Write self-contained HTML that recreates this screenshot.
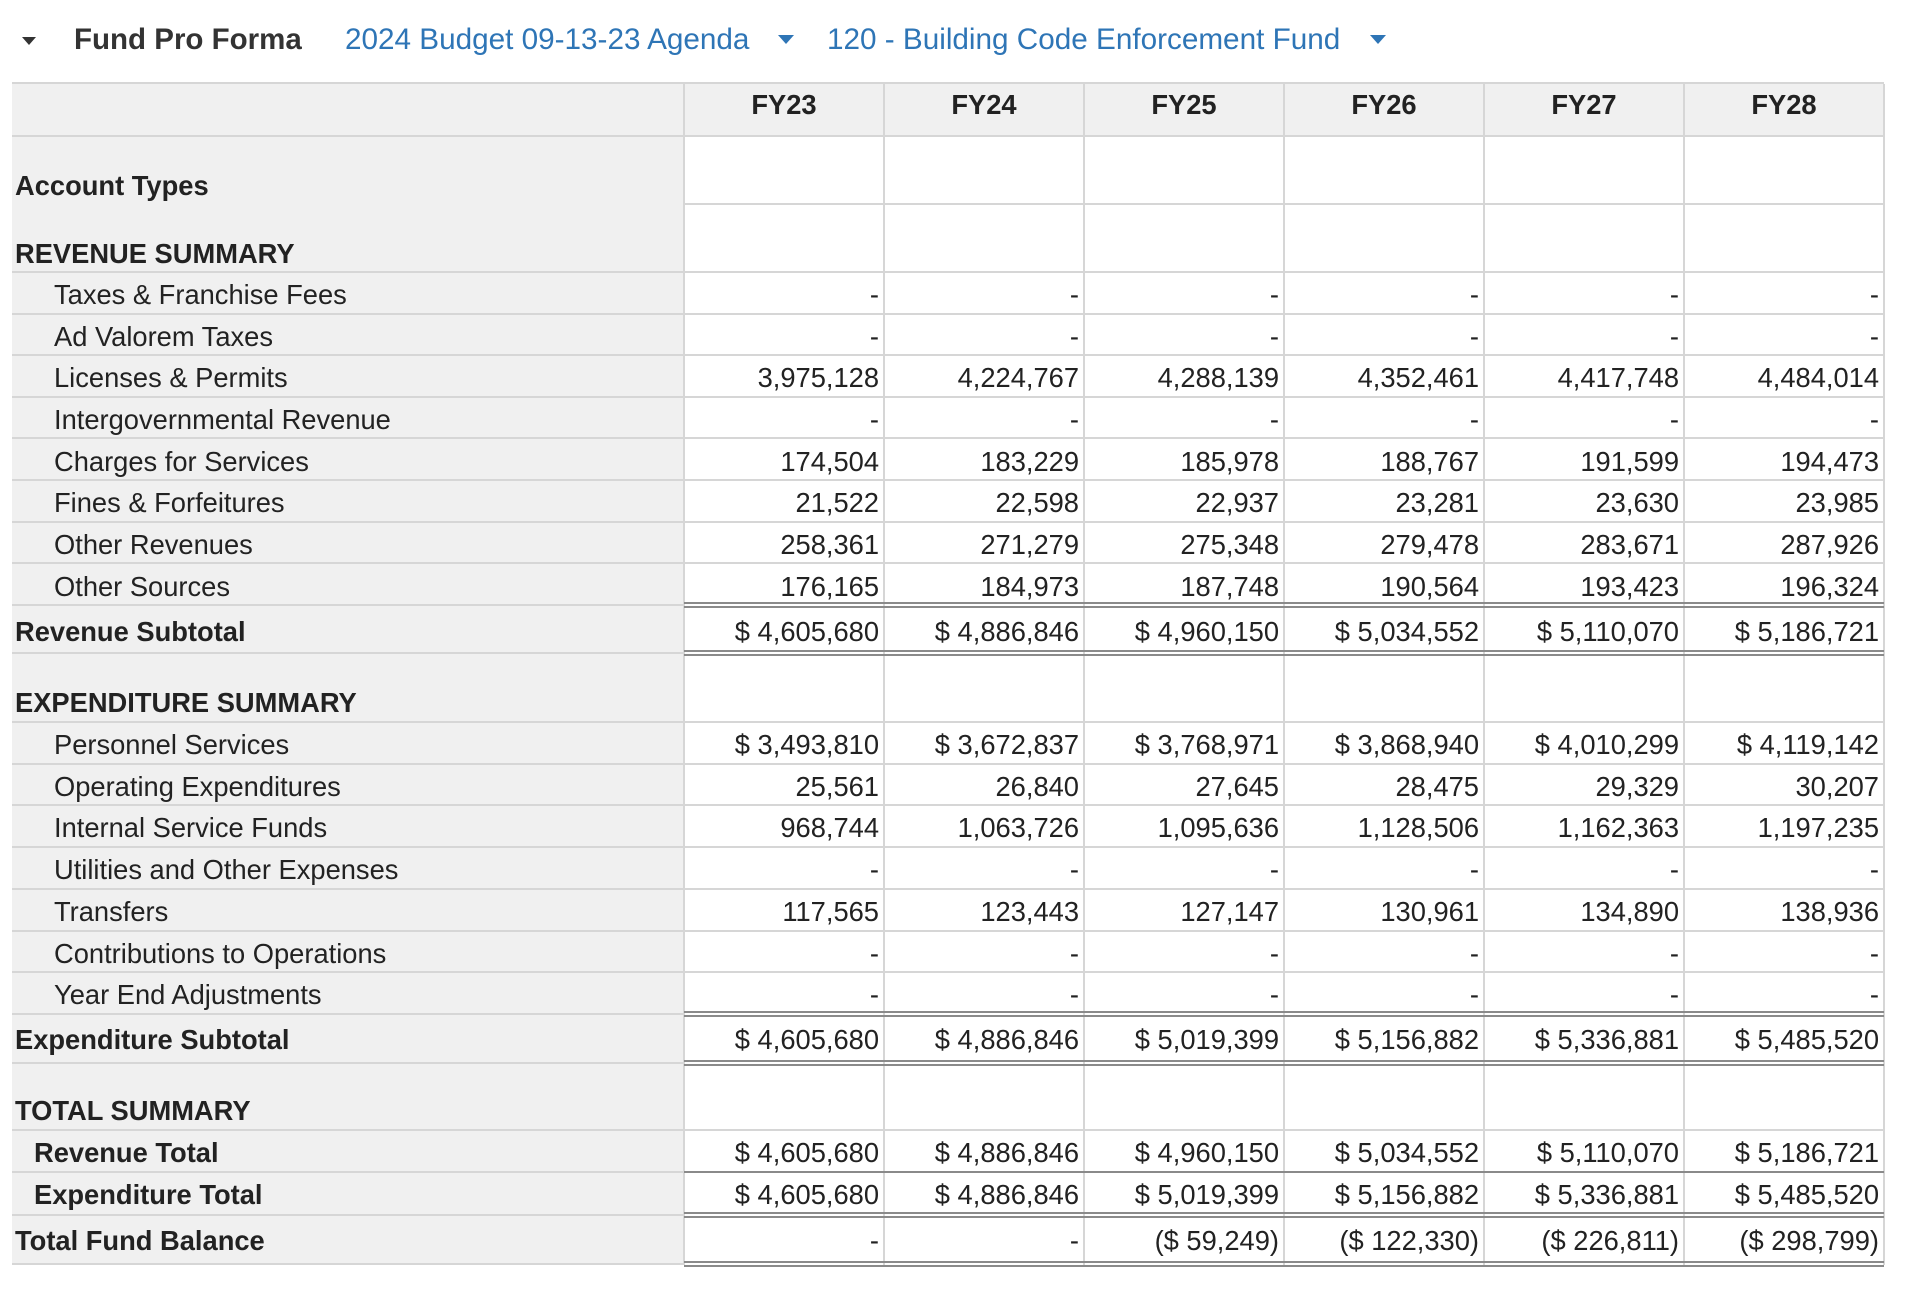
<!DOCTYPE html>
<html><head><meta charset="utf-8"><style>
html,body{margin:0;padding:0;background:#fff;width:1920px;height:1291px;overflow:hidden;font-family:"Liberation Sans",Arial,sans-serif;color:#222;position:relative}
.hdr{position:absolute;top:22px;height:36px;font-size:29px;line-height:36px;white-space:nowrap}
.tri{position:absolute;width:0;height:0;border-left:8px solid transparent;border-right:8px solid transparent;border-top:9px solid #2e75b6}
.bg{position:absolute;background:#f0f0f0}
.hl{position:absolute;height:2px;background:#d6d6d6}
.vl{position:absolute;width:2px;background:#d6d6d6;top:84px;height:1181px}
.dl{position:absolute;left:684px;width:1200px;height:2px;background:#8a8a8a}
.r{position:absolute;left:12px;width:1872px;display:flex;font-size:27.3px;white-space:nowrap}
.r div{box-sizing:border-box;width:200px;text-align:right;padding-right:5px}
.r div:first-child{width:672px;text-align:left}
.it div:first-child{padding-left:42px}
.b div:first-child{font-weight:bold;padding-left:3px}
.bi div:first-child{font-weight:bold;padding-left:22px}
.h div{text-align:center;font-weight:bold;padding-right:0}
</style></head><body>
<div class="tri" style="left:22px;top:37px;border-top-color:#333;border-left-width:7px;border-right-width:7px;border-top-width:8px"></div>
<div class="hdr" style="left:74px;font-weight:bold;color:#333;font-size:29.5px">Fund Pro Forma</div>
<div class="hdr" style="left:345px;color:#2e75b6;font-size:29.7px">2024 Budget 09-13-23 Agenda</div>
<div class="tri" style="left:778px;top:35px"></div>
<div class="hdr" style="left:827px;color:#2e75b6;font-size:29.7px">120 - Building Code Enforcement Fund</div>
<div class="tri" style="left:1370px;top:35px"></div>

<div class="bg" style="left:12px;top:83px;width:672px;height:1182px"></div>
<div class="bg" style="left:684px;top:83px;width:1200px;height:53px"></div>

<div class="hl" style="left:12px;width:1872px;top:82px"></div>
<div class="hl" style="left:12px;width:1872px;top:135px"></div>
<div class="hl" style="left:684px;width:1200px;top:203px"></div>
<div class="hl" style="left:12px;width:1872px;top:271px"></div>
<div class="hl" style="left:12px;width:1872px;top:313px"></div>
<div class="hl" style="left:12px;width:1872px;top:354px"></div>
<div class="hl" style="left:12px;width:1872px;top:396px"></div>
<div class="hl" style="left:12px;width:1872px;top:437px"></div>
<div class="hl" style="left:12px;width:1872px;top:479px"></div>
<div class="hl" style="left:12px;width:1872px;top:521px"></div>
<div class="hl" style="left:12px;width:1872px;top:562px"></div>
<div class="hl" style="left:12px;width:672px;top:604px"></div>
<div class="hl" style="left:12px;width:672px;top:652px"></div>
<div class="hl" style="left:12px;width:1872px;top:721px"></div>
<div class="hl" style="left:12px;width:1872px;top:763px"></div>
<div class="hl" style="left:12px;width:1872px;top:804px"></div>
<div class="hl" style="left:12px;width:1872px;top:846px"></div>
<div class="hl" style="left:12px;width:1872px;top:888px"></div>
<div class="hl" style="left:12px;width:1872px;top:930px"></div>
<div class="hl" style="left:12px;width:1872px;top:971px"></div>
<div class="hl" style="left:12px;width:672px;top:1013px"></div>
<div class="hl" style="left:12px;width:672px;top:1062px"></div>
<div class="hl" style="left:12px;width:1872px;top:1129px"></div>
<div class="hl" style="left:12px;width:672px;top:1171px"></div>
<div class="hl" style="left:12px;width:672px;top:1214px"></div>
<div class="hl" style="left:12px;width:672px;top:1263px"></div>

<div class="vl" style="left:683px"></div>
<div class="vl" style="left:883px"></div>
<div class="vl" style="left:1083px"></div>
<div class="vl" style="left:1283px"></div>
<div class="vl" style="left:1483px"></div>
<div class="vl" style="left:1683px"></div>
<div class="vl" style="left:1883px"></div>

<div class="dl" style="top:602px"></div><div class="dl" style="top:606px"></div>
<div class="dl" style="top:650px"></div><div class="dl" style="top:654px"></div>
<div class="dl" style="top:1011px"></div><div class="dl" style="top:1015px"></div>
<div class="dl" style="top:1060px"></div><div class="dl" style="top:1064px"></div>
<div class="dl" style="top:1171px"></div>
<div class="dl" style="top:1212px"></div><div class="dl" style="top:1216px"></div>
<div class="dl" style="top:1261px"></div><div class="dl" style="top:1265px"></div>

<div class="r h" style="top:90px;line-height:30px"><div></div><div>FY23</div><div>FY24</div><div>FY25</div><div>FY26</div><div>FY27</div><div>FY28</div></div>
<div class="r b" style="top:171px;line-height:30px"><div>Account Types</div></div>
<div class="r b" style="top:239px;line-height:30px"><div>REVENUE SUMMARY</div></div>

<div class="r it" style="top:280px;line-height:30px"><div>Taxes &amp; Franchise Fees</div><div>-</div><div>-</div><div>-</div><div>-</div><div>-</div><div>-</div></div>
<div class="r it" style="top:322px;line-height:30px"><div>Ad Valorem Taxes</div><div>-</div><div>-</div><div>-</div><div>-</div><div>-</div><div>-</div></div>
<div class="r it" style="top:363px;line-height:30px"><div>Licenses &amp; Permits</div><div>3,975,128</div><div>4,224,767</div><div>4,288,139</div><div>4,352,461</div><div>4,417,748</div><div>4,484,014</div></div>
<div class="r it" style="top:405px;line-height:30px"><div>Intergovernmental Revenue</div><div>-</div><div>-</div><div>-</div><div>-</div><div>-</div><div>-</div></div>
<div class="r it" style="top:447px;line-height:30px"><div>Charges for Services</div><div>174,504</div><div>183,229</div><div>185,978</div><div>188,767</div><div>191,599</div><div>194,473</div></div>
<div class="r it" style="top:488px;line-height:30px"><div>Fines &amp; Forfeitures</div><div>21,522</div><div>22,598</div><div>22,937</div><div>23,281</div><div>23,630</div><div>23,985</div></div>
<div class="r it" style="top:530px;line-height:30px"><div>Other Revenues</div><div>258,361</div><div>271,279</div><div>275,348</div><div>279,478</div><div>283,671</div><div>287,926</div></div>
<div class="r it" style="top:572px;line-height:30px"><div>Other Sources</div><div>176,165</div><div>184,973</div><div>187,748</div><div>190,564</div><div>193,423</div><div>196,324</div></div>
<div class="r b" style="top:617px;line-height:30px"><div>Revenue Subtotal</div><div>$ 4,605,680</div><div>$ 4,886,846</div><div>$ 4,960,150</div><div>$ 5,034,552</div><div>$ 5,110,070</div><div>$ 5,186,721</div></div>

<div class="r b" style="top:688px;line-height:30px"><div>EXPENDITURE SUMMARY</div></div>
<div class="r it" style="top:730px;line-height:30px"><div>Personnel Services</div><div>$ 3,493,810</div><div>$ 3,672,837</div><div>$ 3,768,971</div><div>$ 3,868,940</div><div>$ 4,010,299</div><div>$ 4,119,142</div></div>
<div class="r it" style="top:772px;line-height:30px"><div>Operating Expenditures</div><div>25,561</div><div>26,840</div><div>27,645</div><div>28,475</div><div>29,329</div><div>30,207</div></div>
<div class="r it" style="top:813px;line-height:30px"><div>Internal Service Funds</div><div>968,744</div><div>1,063,726</div><div>1,095,636</div><div>1,128,506</div><div>1,162,363</div><div>1,197,235</div></div>
<div class="r it" style="top:855px;line-height:30px"><div>Utilities and Other Expenses</div><div>-</div><div>-</div><div>-</div><div>-</div><div>-</div><div>-</div></div>
<div class="r it" style="top:897px;line-height:30px"><div>Transfers</div><div>117,565</div><div>123,443</div><div>127,147</div><div>130,961</div><div>134,890</div><div>138,936</div></div>
<div class="r it" style="top:939px;line-height:30px"><div>Contributions to Operations</div><div>-</div><div>-</div><div>-</div><div>-</div><div>-</div><div>-</div></div>
<div class="r it" style="top:980px;line-height:30px"><div>Year End Adjustments</div><div>-</div><div>-</div><div>-</div><div>-</div><div>-</div><div>-</div></div>
<div class="r b" style="top:1025px;line-height:30px"><div>Expenditure Subtotal</div><div>$ 4,605,680</div><div>$ 4,886,846</div><div>$ 5,019,399</div><div>$ 5,156,882</div><div>$ 5,336,881</div><div>$ 5,485,520</div></div>

<div class="r b" style="top:1096px;line-height:30px"><div>TOTAL SUMMARY</div></div>
<div class="r bi" style="top:1138px;line-height:30px"><div>Revenue Total</div><div>$ 4,605,680</div><div>$ 4,886,846</div><div>$ 4,960,150</div><div>$ 5,034,552</div><div>$ 5,110,070</div><div>$ 5,186,721</div></div>
<div class="r bi" style="top:1180px;line-height:30px"><div>Expenditure Total</div><div>$ 4,605,680</div><div>$ 4,886,846</div><div>$ 5,019,399</div><div>$ 5,156,882</div><div>$ 5,336,881</div><div>$ 5,485,520</div></div>
<div class="r b" style="top:1226px;line-height:30px"><div>Total Fund Balance</div><div>-</div><div>-</div><div>($ 59,249)</div><div>($ 122,330)</div><div>($ 226,811)</div><div>($ 298,799)</div></div>
</body></html>
